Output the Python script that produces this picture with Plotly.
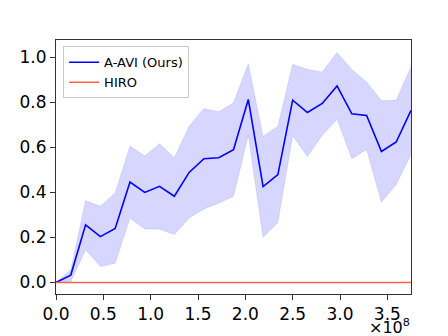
import plotly.graph_objects as go

# timesteps (in units of 1e8)
steps = [0.0, 0.15625, 0.3125, 0.46875, 0.625, 0.78125, 0.9375, 1.09375, 1.25,
         1.40625, 1.5625, 1.71875, 1.875, 2.03125, 2.1875, 2.34375, 2.5, 2.65625,
         2.8125, 2.96875, 3.125, 3.28125, 3.4375, 3.59375, 3.75]

aavi_mean = [0.0, 0.033, 0.256, 0.204, 0.240, 0.446, 0.400, 0.427, 0.383,
             0.489, 0.550, 0.554, 0.590, 0.813, 0.426, 0.479, 0.810, 0.755,
             0.795, 0.873, 0.749, 0.742, 0.582, 0.624, 0.765]
aavi_upper = [0.0, 0.057, 0.364, 0.339, 0.397, 0.606, 0.562, 0.616, 0.554,
              0.694, 0.773, 0.758, 0.798, 0.972, 0.649, 0.694, 0.969, 0.946,
              0.935, 1.022, 0.946, 0.891, 0.807, 0.810, 0.958]
aavi_lower = [0.0, 0.003, 0.146, 0.071, 0.086, 0.285, 0.238, 0.237, 0.213,
              0.287, 0.327, 0.352, 0.383, 0.654, 0.200, 0.267, 0.652, 0.560,
              0.654, 0.725, 0.550, 0.591, 0.357, 0.435, 0.569]
hiro_mean = [0.0] * len(steps)

xticks = [0.0, 0.5, 1.0, 1.5, 2.0, 2.5, 3.0, 3.5]
xticklabels = ["0.0", "0.5", "1.0", "1.5", "2.0", "2.5", "3.0", "3.5"]
yticks = [0.0, 0.2, 0.4, 0.6, 0.8, 1.0]
yticklabels = ["0.0", "0.2", "0.4", "0.6", "0.8", "1.0"]

fig = go.Figure()
fig.add_trace(go.Scatter(x=steps, y=aavi_upper, mode="lines",
                         line=dict(width=0.8, color="rgba(0,0,255,0.12)"),
                         showlegend=False, hoverinfo="skip"))
fig.add_trace(go.Scatter(x=steps, y=aavi_lower, mode="lines", fill="tonexty",
                         fillcolor="rgba(0,0,255,0.16)",
                         line=dict(width=0.8, color="rgba(0,0,255,0.12)"),
                         showlegend=False, hoverinfo="skip"))
fig.add_trace(go.Scatter(x=steps, y=aavi_mean, mode="lines", name="A-AVI (Ours)",
                         line=dict(color="#0000ff", width=1.6)))
fig.add_trace(go.Scatter(x=steps, y=hiro_mean, mode="lines", name="HIRO",
                         line=dict(color="#ff6347", width=1.6)))

font = dict(family="DejaVu Sans", size=17, color="black")
fig.update_layout(
    width=440, height=328,
    margin=dict(l=48, r=37, t=32, b=35),
    paper_bgcolor="white", plot_bgcolor="white",
    font=font,
    legend=dict(x=0.02, y=0.975, xanchor="left", yanchor="top",
                traceorder="normal",
                bgcolor="rgba(255,255,255,0.9)", bordercolor="#cccccc",
                borderwidth=1, font=dict(family="DejaVu Sans", size=13),
                tracegroupgap=0, itemwidth=30),
    xaxis=dict(range=[0, 3.75], tickvals=xticks, ticktext=xticklabels,
               showgrid=False, zeroline=False, showline=True, linecolor="#333333",
               linewidth=1, mirror=True, ticks="outside", ticklen=5, tickcolor="#333333",
               tickfont=font),
    yaxis=dict(range=[-0.051, 1.077], tickvals=yticks, ticktext=yticklabels,
               showgrid=False, zeroline=False, showline=True, linecolor="#333333",
               linewidth=1, mirror=True, ticks="outside", ticklen=5, tickcolor="#333333",
               tickfont=font),
    annotations=[dict(text="×10<sup>8</sup>", xref="paper", yref="paper",
                      x=1.0, y=-0.172, xanchor="right", yanchor="bottom",
                      showarrow=False, font=dict(family="DejaVu Sans", size=16,
                                                 color="black"),
                      borderpad=0)],
)
fig.write_html("out.html")
